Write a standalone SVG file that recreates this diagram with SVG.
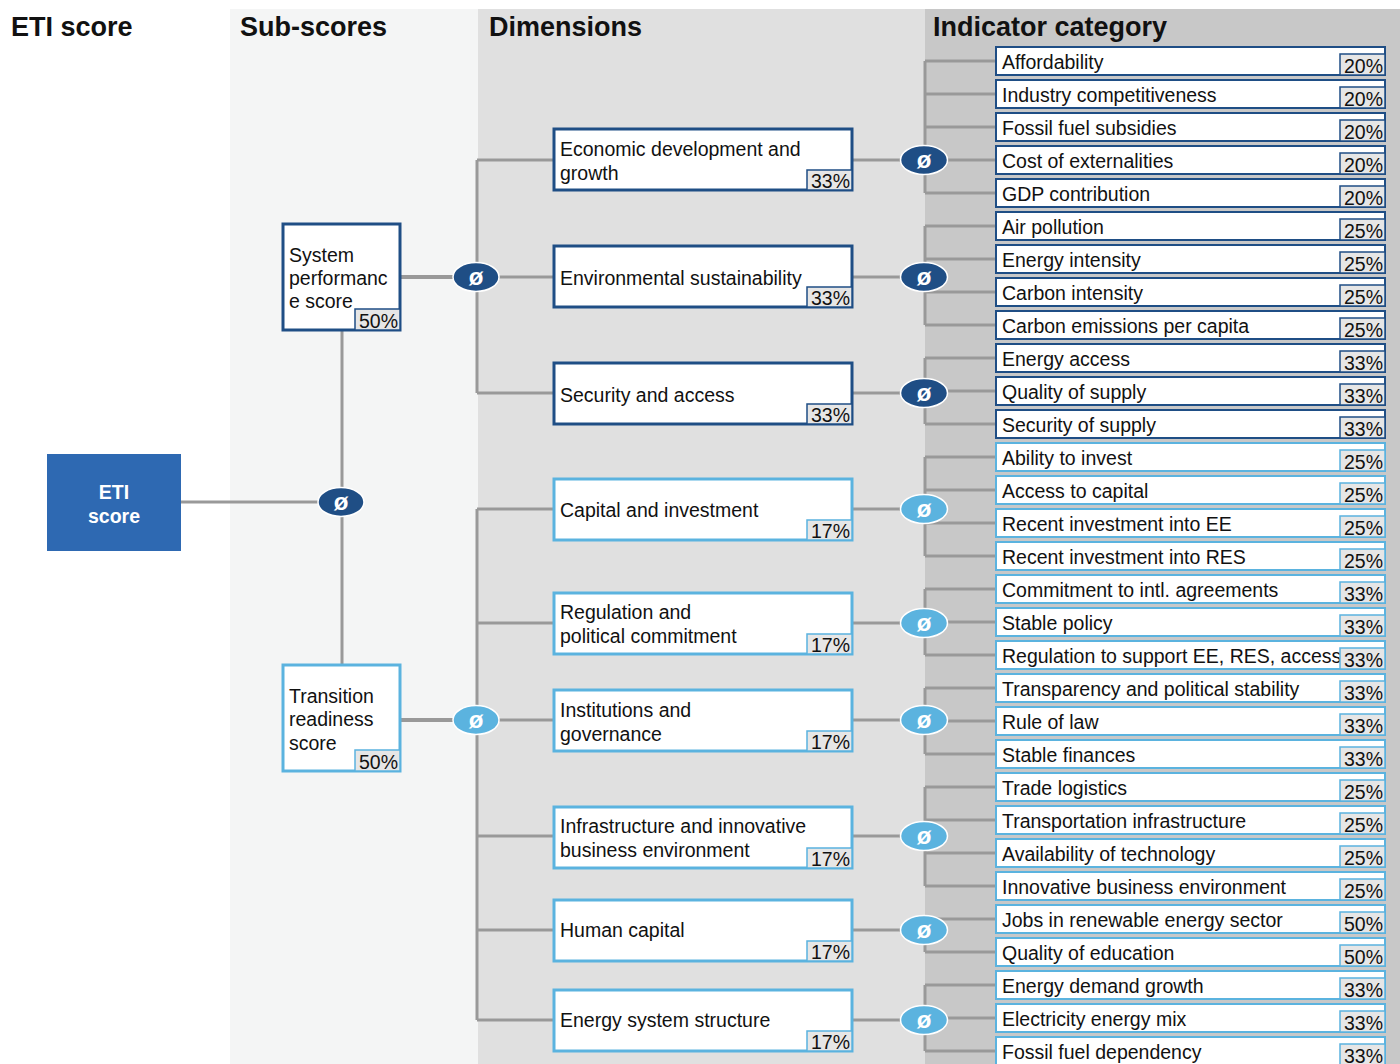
<svg xmlns="http://www.w3.org/2000/svg" width="1400" height="1064" viewBox="0 0 1400 1064">
<style>
text{font-family:"Liberation Sans",Arial,sans-serif;fill:#111}
.hdr{font-size:27px;font-weight:bold}
.t{font-size:19.5px}
.p{font-size:19.5px;text-anchor:end}
.box{fill:#fff}
.dk .box{stroke:#1f4e85}
.lt .box{stroke:#5bb3df}
.dk .pb{fill:#e6e6e6;stroke:#1f4e85;stroke-width:1.5}
.lt .pb{fill:#e6e6e6;stroke:#5bb3df;stroke-width:1.5}
.ind .box{stroke-width:2}
.dim .box,.sub .box{stroke-width:3}
.conn{stroke:#999;stroke-width:3;fill:none}
.avg ellipse{stroke:#fff;stroke-width:1.5}
.avg.dk ellipse{fill:#1f4e85}
.avg.lt ellipse{fill:#5bb3df}
.avg text{fill:#fff;font-size:24px;font-weight:bold;text-anchor:middle}
</style>
<g id="background">
<rect x="230" y="9" width="248" height="1055" fill="#f4f5f5"/>
<rect x="478" y="9" width="447" height="1055" fill="#e0e0e0"/>
<rect x="925" y="9" width="475" height="1055" fill="#c8c8c8"/>
<text class="hdr" x="11" y="36">ETI score</text>
<text class="hdr" x="240" y="36">Sub-scores</text>
<text class="hdr" x="489" y="36">Dimensions</text>
<text class="hdr" x="933" y="36">Indicator category</text>
</g>
<g id="connectors">
<path class="conn" d="M181,502H342M342,331V665"/>
<path class="conn" d="M400,277H554M477,160V393M477,160H554M477,393H554" />
<path class="conn" d="M400,277H470M400,720H470" style="stroke-width:4"/>
<path class="conn" d="M400,720H554M477,509V1020M477,509H554M477,623H554M477,836H554M477,930H554M477,1020H554"/>
<path class="conn" d="M852,160H925M925,61V193M925,61H996M925,94H996M925,127H996M925,160H996M925,193H996"/>
<path class="conn" d="M852,277H925M925,226V325M925,226H996M925,259H996M925,292H996M925,325H996"/>
<path class="conn" d="M852,393H925M925,358V424M925,358H996M925,391H996M925,424H996"/>
<path class="conn" d="M852,509H925M925,457V556M925,457H996M925,490H996M925,523H996M925,556H996"/>
<path class="conn" d="M852,623H925M925,589V655M925,589H996M925,622H996M925,655H996"/>
<path class="conn" d="M852,720H925M925,688V754M925,688H996M925,721H996M925,754H996"/>
<path class="conn" d="M852,836H925M925,787V886M925,787H996M925,820H996M925,853H996M925,886H996"/>
<path class="conn" d="M852,930H925M925,919V952M925,919H996M925,952H996"/>
<path class="conn" d="M852,1020H925M925,985V1051M925,985H996M925,1018H996M925,1051H996"/>
</g>
<g id="eti-score">
<rect x="47" y="454" width="134" height="97" fill="#2e69b2"/>
<text x="114" y="499" style="fill:#fff;font-size:19.5px;font-weight:bold;text-anchor:middle">ETI</text>
<text x="114" y="523" style="fill:#fff;font-size:19.5px;font-weight:bold;text-anchor:middle">score</text>
</g>
<g id="avg-eti" class="avg dk"><ellipse cx="341" cy="502" rx="23" ry="14.5"/><text x="341" y="510">ø</text></g>
<g id="sub-system" class="sub dk" transform="translate(283,224)">
<rect class="box" width="117" height="106"/>
<text class="t" x="6" y="38">System</text><text class="t" x="6" y="61">performanc</text><text class="t" x="6" y="84">e score</text>
<rect class="pb" x="72" y="85" width="45" height="21"/><text class="p" x="115" y="104">50%</text>
</g>
<g id="sub-transition" class="sub lt" transform="translate(283,665)">
<rect class="box" width="117" height="106"/>
<text class="t" x="6" y="38">Transition</text><text class="t" x="6" y="61">readiness</text><text class="t" x="6" y="85">score</text>
<rect class="pb" x="72" y="85" width="45" height="21"/><text class="p" x="115" y="104">50%</text>
</g>
<g id="avg-system" class="avg dk"><ellipse cx="476" cy="277" rx="23" ry="14.5"/><text x="476" y="285">ø</text></g>
<g id="avg-transition" class="avg lt"><ellipse cx="476" cy="720" rx="23" ry="14.5"/><text x="476" y="728">ø</text></g>
<g id="dim-economic" class="dim dk" transform="translate(554,129)"><rect class="box" width="298" height="61"/><text class="t" x="6" y="27">Economic development and</text><text class="t" x="6" y="50.5">growth</text><rect class="pb" x="253" y="41" width="45" height="20"/><text class="p" x="296" y="59">33%</text></g>
<g id="dim-environmental" class="dim dk" transform="translate(554,246)"><rect class="box" width="298" height="61"/><text class="t" x="6" y="39">Environmental sustainability</text><rect class="pb" x="253" y="41" width="45" height="20"/><text class="p" x="296" y="59">33%</text></g>
<g id="dim-security" class="dim dk" transform="translate(554,363)"><rect class="box" width="298" height="61"/><text class="t" x="6" y="39">Security and access</text><rect class="pb" x="253" y="41" width="45" height="20"/><text class="p" x="296" y="59">33%</text></g>
<g id="dim-capital" class="dim lt" transform="translate(554,479)"><rect class="box" width="298" height="61"/><text class="t" x="6" y="38">Capital and investment</text><rect class="pb" x="253" y="41" width="45" height="20"/><text class="p" x="296" y="59">17%</text></g>
<g id="dim-regulation" class="dim lt" transform="translate(554,593)"><rect class="box" width="298" height="61"/><text class="t" x="6" y="26">Regulation and</text><text class="t" x="6" y="50">political commitment</text><rect class="pb" x="253" y="41" width="45" height="20"/><text class="p" x="296" y="59">17%</text></g>
<g id="dim-institutions" class="dim lt" transform="translate(554,690)"><rect class="box" width="298" height="61"/><text class="t" x="6" y="27">Institutions and</text><text class="t" x="6" y="51">governance</text><rect class="pb" x="253" y="41" width="45" height="20"/><text class="p" x="296" y="59">17%</text></g>
<g id="dim-infrastructure" class="dim lt" transform="translate(554,807)"><rect class="box" width="298" height="61"/><text class="t" x="6" y="26">Infrastructure and innovative</text><text class="t" x="6" y="50">business environment</text><rect class="pb" x="253" y="41" width="45" height="20"/><text class="p" x="296" y="59">17%</text></g>
<g id="dim-human" class="dim lt" transform="translate(554,900)"><rect class="box" width="298" height="61"/><text class="t" x="6" y="37">Human capital</text><rect class="pb" x="253" y="41" width="45" height="20"/><text class="p" x="296" y="59">17%</text></g>
<g id="dim-energy-system" class="dim lt" transform="translate(554,990)"><rect class="box" width="298" height="61"/><text class="t" x="6" y="37">Energy system structure</text><rect class="pb" x="253" y="41" width="45" height="20"/><text class="p" x="296" y="59">17%</text></g>
<g id="avg-economic" class="avg dk"><ellipse cx="924" cy="160" rx="23.5" ry="14.5"/><text x="924" y="168">ø</text></g>
<g id="avg-environmental" class="avg dk"><ellipse cx="924" cy="277" rx="23.5" ry="14.5"/><text x="924" y="285">ø</text></g>
<g id="avg-security" class="avg dk"><ellipse cx="924" cy="393" rx="23.5" ry="14.5"/><text x="924" y="401">ø</text></g>
<g id="avg-capital" class="avg lt"><ellipse cx="924" cy="509" rx="23.5" ry="14.5"/><text x="924" y="517">ø</text></g>
<g id="avg-regulation" class="avg lt"><ellipse cx="924" cy="623" rx="23.5" ry="14.5"/><text x="924" y="631">ø</text></g>
<g id="avg-institutions" class="avg lt"><ellipse cx="924" cy="720" rx="23.5" ry="14.5"/><text x="924" y="728">ø</text></g>
<g id="avg-infrastructure" class="avg lt"><ellipse cx="924" cy="836" rx="23.5" ry="14.5"/><text x="924" y="844">ø</text></g>
<g id="avg-human" class="avg lt"><ellipse cx="924" cy="930" rx="23.5" ry="14.5"/><text x="924" y="938">ø</text></g>
<g id="avg-energy-system" class="avg lt"><ellipse cx="924" cy="1020" rx="23.5" ry="14.5"/><text x="924" y="1028">ø</text></g>
<g id="ind-01" class="ind dk" transform="translate(996,47)"><rect class="box" width="389" height="28"/><text class="t" x="6" y="22">Affordability</text><rect class="pb" x="344" y="7" width="45" height="21"/><text class="p" x="387" y="26">20%</text></g>
<g id="ind-02" class="ind dk" transform="translate(996,80)"><rect class="box" width="389" height="28"/><text class="t" x="6" y="22">Industry competitiveness</text><rect class="pb" x="344" y="7" width="45" height="21"/><text class="p" x="387" y="26">20%</text></g>
<g id="ind-03" class="ind dk" transform="translate(996,113)"><rect class="box" width="389" height="28"/><text class="t" x="6" y="22">Fossil fuel subsidies</text><rect class="pb" x="344" y="7" width="45" height="21"/><text class="p" x="387" y="26">20%</text></g>
<g id="ind-04" class="ind dk" transform="translate(996,146)"><rect class="box" width="389" height="28"/><text class="t" x="6" y="22">Cost of externalities</text><rect class="pb" x="344" y="7" width="45" height="21"/><text class="p" x="387" y="26">20%</text></g>
<g id="ind-05" class="ind dk" transform="translate(996,179)"><rect class="box" width="389" height="28"/><text class="t" x="6" y="22">GDP contribution</text><rect class="pb" x="344" y="7" width="45" height="21"/><text class="p" x="387" y="26">20%</text></g>
<g id="ind-06" class="ind dk" transform="translate(996,212)"><rect class="box" width="389" height="28"/><text class="t" x="6" y="22">Air pollution</text><rect class="pb" x="344" y="7" width="45" height="21"/><text class="p" x="387" y="26">25%</text></g>
<g id="ind-07" class="ind dk" transform="translate(996,245)"><rect class="box" width="389" height="28"/><text class="t" x="6" y="22">Energy intensity</text><rect class="pb" x="344" y="7" width="45" height="21"/><text class="p" x="387" y="26">25%</text></g>
<g id="ind-08" class="ind dk" transform="translate(996,278)"><rect class="box" width="389" height="28"/><text class="t" x="6" y="22">Carbon intensity</text><rect class="pb" x="344" y="7" width="45" height="21"/><text class="p" x="387" y="26">25%</text></g>
<g id="ind-09" class="ind dk" transform="translate(996,311)"><rect class="box" width="389" height="28"/><text class="t" x="6" y="22">Carbon emissions per capita</text><rect class="pb" x="344" y="7" width="45" height="21"/><text class="p" x="387" y="26">25%</text></g>
<g id="ind-10" class="ind dk" transform="translate(996,344)"><rect class="box" width="389" height="28"/><text class="t" x="6" y="22">Energy access</text><rect class="pb" x="344" y="7" width="45" height="21"/><text class="p" x="387" y="26">33%</text></g>
<g id="ind-11" class="ind dk" transform="translate(996,377)"><rect class="box" width="389" height="28"/><text class="t" x="6" y="22">Quality of supply</text><rect class="pb" x="344" y="7" width="45" height="21"/><text class="p" x="387" y="26">33%</text></g>
<g id="ind-12" class="ind dk" transform="translate(996,410)"><rect class="box" width="389" height="28"/><text class="t" x="6" y="22">Security of supply</text><rect class="pb" x="344" y="7" width="45" height="21"/><text class="p" x="387" y="26">33%</text></g>
<g id="ind-13" class="ind lt" transform="translate(996,443)"><rect class="box" width="389" height="28"/><text class="t" x="6" y="22">Ability to invest</text><rect class="pb" x="344" y="7" width="45" height="21"/><text class="p" x="387" y="26">25%</text></g>
<g id="ind-14" class="ind lt" transform="translate(996,476)"><rect class="box" width="389" height="28"/><text class="t" x="6" y="22">Access to capital</text><rect class="pb" x="344" y="7" width="45" height="21"/><text class="p" x="387" y="26">25%</text></g>
<g id="ind-15" class="ind lt" transform="translate(996,509)"><rect class="box" width="389" height="28"/><text class="t" x="6" y="22">Recent investment into EE</text><rect class="pb" x="344" y="7" width="45" height="21"/><text class="p" x="387" y="26">25%</text></g>
<g id="ind-16" class="ind lt" transform="translate(996,542)"><rect class="box" width="389" height="28"/><text class="t" x="6" y="22">Recent investment into RES</text><rect class="pb" x="344" y="7" width="45" height="21"/><text class="p" x="387" y="26">25%</text></g>
<g id="ind-17" class="ind lt" transform="translate(996,575)"><rect class="box" width="389" height="28"/><text class="t" x="6" y="22">Commitment to intl. agreements</text><rect class="pb" x="344" y="7" width="45" height="21"/><text class="p" x="387" y="26">33%</text></g>
<g id="ind-18" class="ind lt" transform="translate(996,608)"><rect class="box" width="389" height="28"/><text class="t" x="6" y="22">Stable policy</text><rect class="pb" x="344" y="7" width="45" height="21"/><text class="p" x="387" y="26">33%</text></g>
<g id="ind-19" class="ind lt" transform="translate(996,641)"><rect class="box" width="389" height="28"/><text class="t" x="6" y="22">Regulation to support EE, RES, access</text><rect class="pb" x="344" y="7" width="45" height="21"/><text class="p" x="387" y="26">33%</text></g>
<g id="ind-20" class="ind lt" transform="translate(996,674)"><rect class="box" width="389" height="28"/><text class="t" x="6" y="22">Transparency and political stability</text><rect class="pb" x="344" y="7" width="45" height="21"/><text class="p" x="387" y="26">33%</text></g>
<g id="ind-21" class="ind lt" transform="translate(996,707)"><rect class="box" width="389" height="28"/><text class="t" x="6" y="22">Rule of law</text><rect class="pb" x="344" y="7" width="45" height="21"/><text class="p" x="387" y="26">33%</text></g>
<g id="ind-22" class="ind lt" transform="translate(996,740)"><rect class="box" width="389" height="28"/><text class="t" x="6" y="22">Stable finances</text><rect class="pb" x="344" y="7" width="45" height="21"/><text class="p" x="387" y="26">33%</text></g>
<g id="ind-23" class="ind lt" transform="translate(996,773)"><rect class="box" width="389" height="28"/><text class="t" x="6" y="22">Trade logistics</text><rect class="pb" x="344" y="7" width="45" height="21"/><text class="p" x="387" y="26">25%</text></g>
<g id="ind-24" class="ind lt" transform="translate(996,806)"><rect class="box" width="389" height="28"/><text class="t" x="6" y="22">Transportation infrastructure</text><rect class="pb" x="344" y="7" width="45" height="21"/><text class="p" x="387" y="26">25%</text></g>
<g id="ind-25" class="ind lt" transform="translate(996,839)"><rect class="box" width="389" height="28"/><text class="t" x="6" y="22">Availability of technology</text><rect class="pb" x="344" y="7" width="45" height="21"/><text class="p" x="387" y="26">25%</text></g>
<g id="ind-26" class="ind lt" transform="translate(996,872)"><rect class="box" width="389" height="28"/><text class="t" x="6" y="22">Innovative business environment</text><rect class="pb" x="344" y="7" width="45" height="21"/><text class="p" x="387" y="26">25%</text></g>
<g id="ind-27" class="ind lt" transform="translate(996,905)"><rect class="box" width="389" height="28"/><text class="t" x="6" y="22">Jobs in renewable energy sector</text><rect class="pb" x="344" y="7" width="45" height="21"/><text class="p" x="387" y="26">50%</text></g>
<g id="ind-28" class="ind lt" transform="translate(996,938)"><rect class="box" width="389" height="28"/><text class="t" x="6" y="22">Quality of education</text><rect class="pb" x="344" y="7" width="45" height="21"/><text class="p" x="387" y="26">50%</text></g>
<g id="ind-29" class="ind lt" transform="translate(996,971)"><rect class="box" width="389" height="28"/><text class="t" x="6" y="22">Energy demand growth</text><rect class="pb" x="344" y="7" width="45" height="21"/><text class="p" x="387" y="26">33%</text></g>
<g id="ind-30" class="ind lt" transform="translate(996,1004)"><rect class="box" width="389" height="28"/><text class="t" x="6" y="22">Electricity energy mix</text><rect class="pb" x="344" y="7" width="45" height="21"/><text class="p" x="387" y="26">33%</text></g>
<g id="ind-31" class="ind lt" transform="translate(996,1037)"><rect class="box" width="389" height="28"/><text class="t" x="6" y="22">Fossil fuel dependency</text><rect class="pb" x="344" y="7" width="45" height="21"/><text class="p" x="387" y="26">33%</text></g>
</svg>
